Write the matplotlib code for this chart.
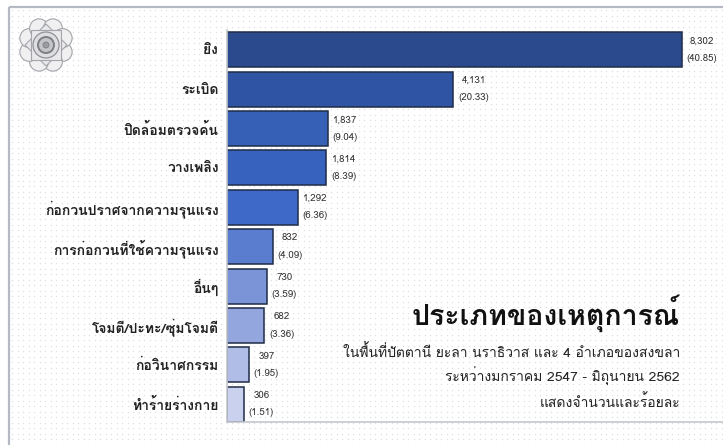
import numpy as np
import matplotlib
matplotlib.use("Agg")
import matplotlib.pyplot as plt
from matplotlib import font_manager
from matplotlib.ft2font import FT2Font
from matplotlib.patches import Rectangle, Circle, RegularPolygon

# data
categories = ["ยิง", "ระเบิด", "ปิดล้อมตรวจค้น", "วางเพลิง", "ก่อกวนปราศจากความรุนแรง",
              "การก่อกวนที่ใช้ความรุนแรง", "อื่นๆ", "โจมตี/ปะทะ/ซุ่มโจมตี", "ก่อวินาศกรรม",
              "ทำร้ายร่างกาย"]
counts = [8302, 4131, 1837, 1814, 1292, 832, 730, 682, 397, 306]
percents = ["40.85", "20.33", "9.04", "8.39", "6.36", "4.09", "3.59", "3.36", "1.95", "1.51"]
title = "ประเภทของเหตุการณ์"
subtitles = ["ในพื้นที่ปัตตานี ยะลา นราธิวาส และ 4 อำเภอของสงขลา",
             "ระหว่างมกราคม 2547 - มิถุนายน 2562",
             "แสดงจำนวนและร้อยละ"]
bar_colors = ["#2b4a8e", "#2e54a3", "#3560b6", "#3762bd", "#3e69c8",
              "#5a7dd0", "#7b94d8", "#93a6de", "#b0bde7", "#c9d1ee"]


def thai_font():
    for f in font_manager.fontManager.ttflist:
        try:
            cmap = FT2Font(f.fname).get_charmap()
        except Exception:
            continue
        if 0x0E22 in cmap and 0x0E1B in cmap:
            return f.name
    return "DejaVu Sans"


fam = thai_font()
plt.rcParams['font.family'] = [fam, 'DejaVu Sans']

W, H = 723, 445
fig = plt.figure(figsize=(W / 100, H / 100), dpi=100)
fig.patch.set_facecolor("white")

# background with dotted pattern and frame
bg = fig.add_axes([0, 0, 1, 1], zorder=0)
bg.set_xlim(0, W)
bg.set_ylim(H, 0)
bg.axis("off")
gx, gy = np.meshgrid(np.arange(12, W, 5.5), np.arange(10, H, 5.5))
bg.scatter(gx.ravel(), gy.ravel(), s=1.0, color="#dcdfe5", linewidths=0)
bg.add_patch(Rectangle((9, 7), W, H, fill=False, edgecolor="#b5b9c2", lw=1.6))

# logo (rough ornament)
cx, cy = 46, 45
for a in np.arange(8) * np.pi / 4 + np.pi / 8:
    bg.add_patch(Circle((cx + 18 * np.cos(a), cy + 18 * np.sin(a)), 9.5,
                        facecolor="#f0f0f1", edgecolor="#a3a5aa", lw=0.8))
for ang in (0, np.pi / 4):
    bg.add_patch(RegularPolygon((cx, cy), 4, radius=21, orientation=ang,
                                facecolor="#e9e9eb", edgecolor="#a3a5aa", lw=0.8))
bg.add_patch(Circle((cx, cy), 13, facecolor="#dedee1", edgecolor="#909297", lw=0.9))
bg.add_patch(Circle((cx, cy), 8, facecolor="#c4c5c9", edgecolor="#7d7f85", lw=1.4))
bg.add_patch(Circle((cx, cy), 3, facecolor="#9a9ca1", edgecolor="#7d7f85", lw=0.6))

# bars
ax = fig.add_axes([227 / W, (H - 422) / H, (W - 227) / W, (422 - 30) / H], zorder=2)
ax.patch.set_alpha(0)
y = np.arange(len(categories))
ax.barh(y, counts, height=0.89, color=bar_colors, edgecolor="#1f2c48", linewidth=1.1)
ax.set_xlim(0, (W - 227) / ((682 - 227) / 8302))
ax.set_ylim(9.45, -0.5)
ax.set_yticks(y)
ax.set_yticklabels(categories, fontsize=10, fontweight="bold", color="#222222")
ax.tick_params(axis="y", length=0, pad=6)
ax.set_xticks([])
for s in ("top", "right"):
    ax.spines[s].set_visible(False)
for s in ("left", "bottom"):
    ax.spines[s].set_color("#c4c7cd")
    ax.spines[s].set_linewidth(1.2)

for i, (c, p) in enumerate(zip(counts, percents)):
    ax.annotate(f"{c:,}\n({p})", (c, i), xytext=(3.5, 0), textcoords="offset points",
                ha="left", va="center", multialignment="center", linespacing=2.2,
                fontsize=7, color="#333333", annotation_clip=False)

# title block
fig.text(680 / W, 1 - 325 / H, title, ha="right", va="baseline", fontsize=20.5,
         fontweight="bold", color="#111111")
for k, t in enumerate(subtitles):
    fig.text(680 / W, 1 - (357 + 25 * k) / H, t, ha="right", va="baseline",
             fontsize=10, color="#222222")

fig.savefig("out.png", dpi=100)
